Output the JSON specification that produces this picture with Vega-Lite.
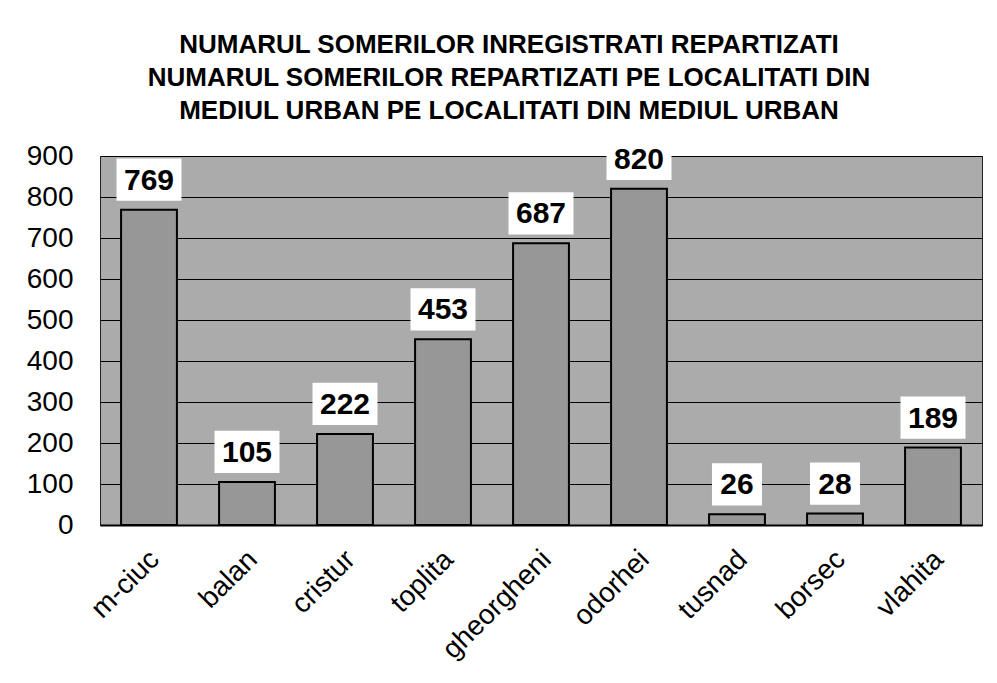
{
  "$schema": "https://vega.github.io/schema/vega-lite/v6.json",
  "autosize": {"type": "none"},
  "width": 882,
  "height": 369,
  "padding": {"left": 100, "top": 156, "right": 15, "bottom": 158},
  "background": "white",
  "title": {
    "text": ["NUMARUL SOMERILOR INREGISTRATI REPARTIZATI", "NUMARUL SOMERILOR REPARTIZATI PE LOCALITATI DIN", "MEDIUL URBAN PE LOCALITATI DIN MEDIUL URBAN"],
    "font": "Liberation Sans",
    "fontSize": 26,
    "fontWeight": "bold",
    "lineHeight": 33,
    "color": "black",
    "anchor": "middle",
    "dx": -32,
    "offset": 14
  },
  "config": {
    "view": {"fill": "#ababab", "stroke": "#222222", "strokeWidth": 1},
    "axis": {"labelFont": "Liberation Sans", "labelColor": "black", "titleFont": "Liberation Sans"}
  },
  "data": {
    "values": [
      {"localitate": "m-ciuc", "someri": 769},
      {"localitate": "balan", "someri": 105},
      {"localitate": "cristur", "someri": 222},
      {"localitate": "toplita", "someri": 453},
      {"localitate": "gheorgheni", "someri": 687},
      {"localitate": "odorhei", "someri": 820},
      {"localitate": "tusnad", "someri": 26},
      {"localitate": "borsec", "someri": 28},
      {"localitate": "vlahita", "someri": 189}
    ]
  },
  "encoding": {
    "x": {
      "field": "localitate",
      "type": "nominal",
      "sort": null,
      "scale": {"paddingInner": 0.43, "paddingOuter": 0.215},
      "axis": {
        "title": null,
        "labelAngle": -45,
        "labelAlign": "right",
        "labelBaseline": "middle",
        "labelFontSize": 28,
        "labelPadding": 30,
        "labelOffset": 6,
        "ticks": false,
        "domain": true,
        "domainColor": "black",
        "domainWidth": 2,
        "grid": false
      }
    },
    "y": {
      "field": "someri",
      "type": "quantitative",
      "scale": {"domain": [0, 900], "nice": false},
      "axis": {
        "title": null,
        "values": [0, 100, 200, 300, 400, 500, 600, 700, 800, 900],
        "labelFontSize": 28,
        "labelPadding": 27,
        "ticks": false,
        "domain": false,
        "grid": true,
        "gridColor": "black",
        "gridWidth": 1,
        "gridOpacity": 1
      }
    }
  },
  "layer": [
    {
      "mark": {"type": "bar", "fill": "#979797", "stroke": "black", "strokeWidth": 2}
    },
    {
      "mark": {"type": "point", "filled": true, "fill": "white", "opacity": 1, "strokeWidth": 0, "size": 4225, "yOffset": -30},
      "encoding": {
        "shape": {
          "condition": {"test": "datum.someri < 100", "value": "M-0.77,-0.65L0.77,-0.65L0.77,0.65L-0.77,0.65Z"},
          "value": "M-1,-0.65L1,-0.65L1,0.65L-1,0.65Z"
        }
      }
    },
    {
      "mark": {"type": "text", "font": "Liberation Sans", "fontWeight": "bold", "fontSize": 30, "color": "black", "baseline": "middle", "align": "center", "yOffset": -29},
      "encoding": {"text": {"field": "someri", "type": "quantitative"}}
    }
  ]
}
